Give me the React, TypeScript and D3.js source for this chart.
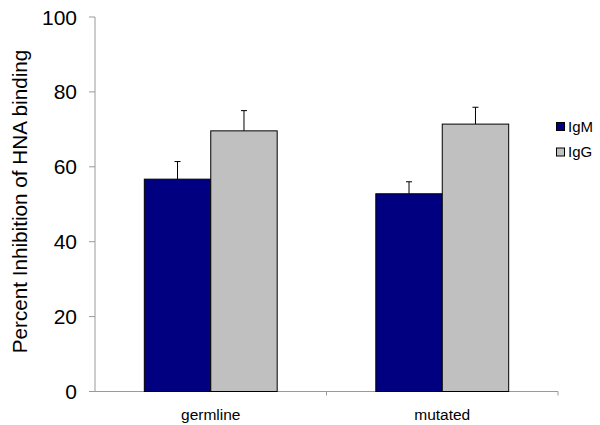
import React from "react";
import * as d3 from "d3";

const categories = ["germline", "mutated"];
const seriesNames = ["IgM", "IgG"];
const seriesColors = ["#000080", "#C0C0C0"];
const igmValues = [56.7, 52.8];
const igmErrors = [4.7, 3.2];
const iggValues = [69.6, 71.4];
const iggErrors = [5.4, 4.5];
const yTicks = [0, 20, 40, 60, 80, 100];

const W = 600;
const H = 425;
const left = 95;
const right = 558;
const top = 17;
const bottom = 391.5;
const font = "'Liberation Sans', Arial, sans-serif";

export default function App() {
  const x = d3.scaleBand<string>().domain(categories).range([left, right]).padding(0);
  const y = d3.scaleLinear().domain([0, 100]).range([bottom, top]);
  const groupW = x.bandwidth() * 0.574;
  const barW = groupW / 2;
  const series = [
    { name: seriesNames[0], color: seriesColors[0], values: igmValues, errors: igmErrors },
    { name: seriesNames[1], color: seriesColors[1], values: iggValues, errors: iggErrors },
  ];
  const axisColor = "#9a9a9a";
  return (
    <svg width={W} height={H} style={{ position: "absolute", left: 0, top: 0, background: "#fff" }}>
      {/* y axis */}
      <line x1={left} x2={left} y1={y(100)} y2={y(0)} stroke={axisColor} strokeWidth={1} />
      {yTicks.map((t) => (
        <g key={t}>
          <line x1={left - 6} x2={left} y1={y(t)} y2={y(t)} stroke={axisColor} strokeWidth={1} />
          <text x={left - 18} y={y(t)} dy="0.36em" textAnchor="end" fontFamily={font} fontSize={21} fill="#000">
            {t}
          </text>
        </g>
      ))}
      {/* x axis */}
      <line x1={left} x2={right} y1={y(0)} y2={y(0)} stroke={axisColor} strokeWidth={1} />
      {[...categories.map((c) => (x(c) as number) + x.bandwidth())].map((px, i) => (
        <line key={i} x1={px} x2={px} y1={y(0)} y2={y(0) + 4} stroke={axisColor} strokeWidth={1} />
      ))}
      {categories.map((c) => (
        <text key={c} x={(x(c) as number) + x.bandwidth() / 2} y={420} textAnchor="middle" fontFamily={font} fontSize={15.5} fill="#000">
          {c}
        </text>
      ))}
      {/* bars */}
      {categories.map((c, ci) => {
        const cx = (x(c) as number) + x.bandwidth() / 2;
        return series.map((s, si) => {
          const bx = cx - groupW / 2 + si * barW;
          const v = s.values[ci];
          const e = s.errors[ci];
          const mid = bx + barW / 2;
          return (
            <g key={c + s.name}>
              <line x1={mid} x2={mid} y1={y(v)} y2={y(v + e)} stroke="#000" strokeWidth={1} />
              <line x1={mid - 3} x2={mid + 3} y1={y(v + e)} y2={y(v + e)} stroke="#000" strokeWidth={1} />
              <rect x={bx} y={y(v)} width={barW} height={y(0) - y(v)} fill={s.color} stroke="#000" strokeWidth={1} />
            </g>
          );
        });
      })}
      {/* y title */}
      <text
        transform={`translate(26.5, 201.5) rotate(-90)`}
        textAnchor="middle"
        fontFamily={font}
        fontSize={20.7}
        fill="#000"
      >
        Percent Inhibition of HNA binding
      </text>
      {/* legend */}
      {series.map((s, i) => (
        <g key={s.name} transform={`translate(556.5, ${122.5 + i * 25.5})`}>
          <rect x={0} y={0} width={8} height={8} fill={s.color} stroke="#000" strokeWidth={1} />
          <text x={11.5} y={9} fontFamily={font} fontSize={15} fill="#000">
            {s.name}
          </text>
        </g>
      ))}
    </svg>
  );
}
